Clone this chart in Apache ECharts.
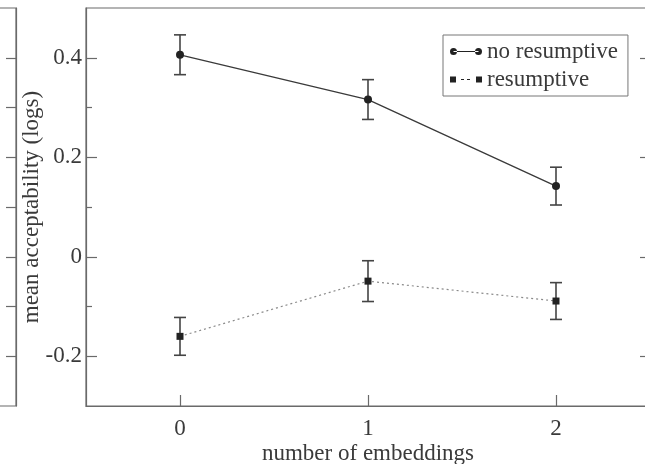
<!DOCTYPE html>
<html>
	<head>
        <meta charset="utf-8" />
		<title>embeddings</title>
        <script src="https://cdn.jsdelivr.net/npm/echarts@6/dist/echarts.min.js"></script>
        <style>
          html, body { margin: 0; padding: 0; background: #fff; }
        </style>
	</head>
	<body>

       <div id="main" style="width:645px;height:464px"></div>

    <script>
      // data
      var categories = ['0', '1', '2'];
      var noResMean = [0.406, 0.316, 0.142];
      var noResErr = [0.040, 0.040, 0.038];
      var resMean = [-0.160, -0.049, -0.089];
      var resErr = [0.038, 0.041, 0.037];

      var yTickLabels = [-0.2, 0, 0.2, 0.4];
      var yMinorTicks = [-0.1, 0.1, 0.3];
      var yAllTicks = [-0.2, -0.1, 0, 0.1, 0.2, 0.3, 0.4];

      var serif = 'Liberation Serif';
      var ink = '#3a3a3a';
      var frame = '#6a6a6a';

      function errData(mean, err) {
          var out = [];
          for (var i = 0; i < mean.length; i++) {
              out.push([i, mean[i] - err[i], mean[i] + err[i]]);
          }
          return out;
      }

      function errRender(params, api) {
          var top = api.coord([api.value(0), api.value(2)]);
          var bot = api.coord([api.value(0), api.value(1)]);
          var w = 6;
          var st = { stroke: '#444', lineWidth: 1.6 };
          return {
              type: 'group',
              children: [
                  { type: 'line', shape: { x1: top[0], y1: top[1], x2: bot[0], y2: bot[1] }, style: st },
                  { type: 'line', shape: { x1: top[0] - w, y1: top[1], x2: top[0] + w, y2: top[1] }, style: st },
                  { type: 'line', shape: { x1: bot[0] - w, y1: bot[1], x2: bot[0] + w, y2: bot[1] }, style: st }
              ]
          };
      }

      var option = {
          backgroundColor: '#fff',
          animation: false,
          legend: {
              orient: 'vertical',
              left: 443,
              top: 35,
              padding: [5, 10, 5, 7],
              itemGap: 5,
              itemWidth: 32,
              itemHeight: 8,
              borderColor: '#777',
              borderWidth: 1,
              textStyle: { fontFamily: serif, fontSize: 23, color: ink },
              data: [
                  { name: 'no resumptive', icon: 'path://M0,4a3.5,3.5 0 1,0 7,0a3.5,3.5 0 1,0 -7,0z M3.5,3.4h25v1.2h-25z M25,4a3.5,3.5 0 1,0 7,0a3.5,3.5 0 1,0 -7,0z' },
                  { name: 'resumptive', icon: 'path://M0,1h6v6h-6z M11,3.4h3v1.2h-3z M17,3.4h3v1.2h-3z M26,1h6v6h-6z' }
              ]
          },
          grid: [
              { left: 86, right: -5, top: 8, height: 398, show: true, borderColor: frame, borderWidth: 1.2, outerBoundsMode: 'none' },
              // right edge of the neighbouring panel
              { left: -300, width: 316, top: 8, height: 398, show: true, borderColor: frame, borderWidth: 1.2, outerBoundsMode: 'none' }
          ],
          xAxis: [
              {
                  type: 'category',
                  gridIndex: 0,
                  data: categories,
                  boundaryGap: true,
                  axisLine: { show: true, onZero: false, lineStyle: { color: frame, width: 1.2 } },
                  axisTick: { show: true, inside: true, length: 11, alignWithLabel: true, lineStyle: { color: frame, width: 1.2 } },
                  axisLabel: { margin: 11, fontFamily: serif, fontSize: 23, color: ink },
                  name: 'number of embeddings',
                  nameLocation: 'middle',
                  nameGap: 36,
                  nameMoveOverlap: false,
                  nameTextStyle: { fontFamily: serif, fontSize: 23, color: ink }
              },
              {
                  type: 'value',
                  gridIndex: 1,
                  show: false
              }
          ],
          yAxis: [
              {
                  type: 'value',
                  gridIndex: 0,
                  min: -0.3,
                  max: 0.5,
                  splitLine: { show: false },
                  axisLine: { show: true, onZero: false, lineStyle: { color: frame, width: 1.2 } },
                  axisTick: { show: true, inside: true, length: 11, customValues: yTickLabels, lineStyle: { color: frame, width: 1.2 } },
                  axisLabel: {
                      customValues: yTickLabels,
                      margin: 4,
                      fontFamily: serif,
                      fontSize: 23,
                      color: ink,
                      formatter: function (v) { return String(Math.round(v * 10) / 10); }
                  },
                  name: 'mean acceptability (logs)',
                  nameLocation: 'middle',
                  nameGap: 43,
                  nameMoveOverlap: false,
                  nameTextStyle: { fontFamily: serif, fontSize: 23, color: ink }
              },
              {
                  type: 'value',
                  gridIndex: 0,
                  position: 'left',
                  min: -0.3,
                  max: 0.5,
                  splitLine: { show: false },
                  axisLine: { show: false },
                  axisTick: { show: true, inside: true, length: 6, customValues: yMinorTicks, lineStyle: { color: frame, width: 1.2 } },
                  axisLabel: { show: false }
              },
              {
                  type: 'value',
                  gridIndex: 0,
                  position: 'right',
                  min: -0.3,
                  max: 0.5,
                  splitLine: { show: false },
                  axisLine: { show: false },
                  axisTick: { show: true, inside: true, length: 10, customValues: yTickLabels, lineStyle: { color: frame, width: 1.2 } },
                  axisLabel: { show: false }
              },
              {
                  // ticks of the neighbouring panel, 70px left of this one
                  type: 'value',
                  gridIndex: 0,
                  position: 'left',
                  offset: 70,
                  min: -0.3,
                  max: 0.5,
                  splitLine: { show: false },
                  axisLine: { show: true, onZero: false, lineStyle: { color: frame, width: 1.2 } },
                  axisTick: { show: true, inside: false, length: 10, customValues: yAllTicks, lineStyle: { color: frame, width: 1.2 } },
                  axisLabel: { show: false }
              }
          ],
          series: [
              {
                  name: 'no resumptive err',
                  type: 'custom',
                  xAxisIndex: 0,
                  yAxisIndex: 0,
                  renderItem: errRender,
                  data: errData(noResMean, noResErr),
                  z: 2
              },
              {
                  name: 'resumptive err',
                  type: 'custom',
                  xAxisIndex: 0,
                  yAxisIndex: 0,
                  renderItem: errRender,
                  data: errData(resMean, resErr),
                  z: 2
              },
              {
                  name: 'no resumptive',
                  type: 'line',
                  xAxisIndex: 0,
                  yAxisIndex: 0,
                  data: noResMean,
                  symbol: 'circle',
                  symbolSize: 8,
                  itemStyle: { color: '#222' },
                  lineStyle: { color: '#3a3a3a', width: 1.3 },
                  z: 3
              },
              {
                  name: 'resumptive',
                  type: 'line',
                  xAxisIndex: 0,
                  yAxisIndex: 0,
                  data: resMean,
                  symbol: 'rect',
                  symbolSize: 7,
                  itemStyle: { color: '#222' },
                  lineStyle: { color: '#8a8a8a', width: 1.2, type: [2, 3] },
                  z: 3
              }
          ]
      };

      var myChart = echarts.init(document.getElementById('main'));
      myChart.setOption(option);
    </script>
	</body>
</html>
